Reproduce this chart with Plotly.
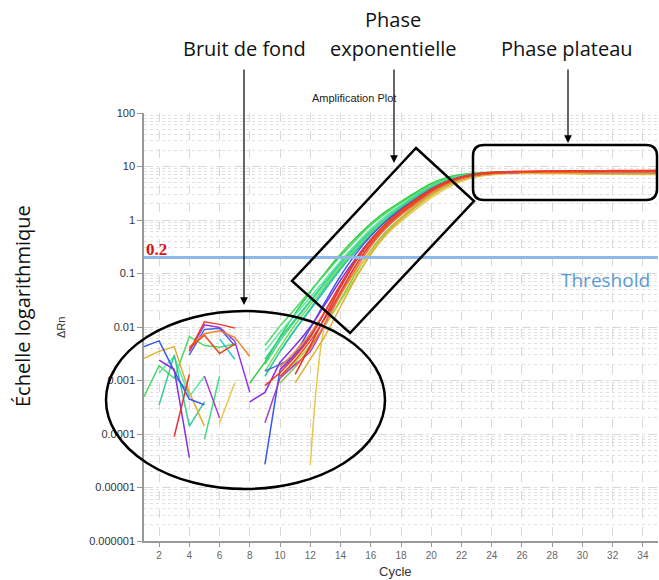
import plotly.graph_objects as go

N = None
cycles = list(range(1, 36))

# ΔRn per well, cycles 1..35 (None = negative / not shown on log scale)
w01 = [N, N, N, N, N, N, N, 0.0009,
       0.0022, 0.0065, 0.018, 0.045, 0.105, 0.23, 0.46, 0.86, 1.45, 2.2, 3.3, 4.8, 6.2, 7.1, 7.6, 7.8, 7.8, 7.9, 7.8, 7.8, 7.7, 7.7, 7.7, 7.6, 7.6, 7.6, 7.6]
w02 = [0.0005, 0.0019, 0.0011, 0.0066, 0.0045, 0.0042, 0.0048, N,
       0.0045, 0.0105, 0.022, 0.047, 0.1, 0.21, 0.42, 0.8, 1.35, 2.1, 3.1, 4.5, 5.9, 6.9, 7.5, 7.7, 7.8, 7.8, 7.8, 7.7, 7.7, 7.6, 7.6, 7.6, 7.5, 7.5, 7.5]
w03 = [N, 0.0014, 0.0028, 0.0005, 0.0012, N, N, N,
       0.0035, 0.008, 0.017, 0.036, 0.078, 0.17, 0.35, 0.68, 1.2, 1.9, 2.9, 4.2, 5.6, 6.7, 7.3, 7.6, 7.7, 7.7, 7.7, 7.7, 7.6, 7.6, 7.6, 7.5, 7.5, 7.5, 7.5]
w04 = [N, 0.00035, 0.003, 0.00014, 0.0004, N, N, N,
       0.0025, 0.0062, 0.014, 0.031, 0.07, 0.155, 0.32, 0.62, 1.1, 1.8, 2.8, 4.1, 5.5, 6.6, 7.3, 7.6, 7.7, 7.8, 7.8, 7.7, 7.7, 7.7, 7.6, 7.6, 7.6, 7.6, 7.6]
w05 = [N, N, 0.0012, 0.0006, N, 0.006, 0.0025, N,
       N, 0.0035, 0.009, 0.022, 0.055, 0.13, 0.28, 0.55, 1.0, 1.65, 2.6, 3.9, 5.3, 6.5, 7.2, 7.6, 7.7, 7.8, 7.8, 7.8, 7.7, 7.7, 7.7, 7.7, 7.6, 7.6, 7.6]
w06 = [0.0043, 0.0055, 0.0015, 0.00045, 0.00035, N, N, N,
       0.000027, 0.0016, 0.0032, 0.0095, 0.03, 0.09, 0.23, 0.5, 0.95, 1.6, 2.5, 3.8, 5.2, 6.4, 7.2, 7.6, 7.8, 7.9, 7.9, 7.9, 7.9, 7.9, 7.9, 7.9, 7.9, 7.9, 7.9]
w07 = [N, N, N, 0.003, 0.009, 0.0095, 0.0045, N,
       0.0015, 0.002, 0.003, 0.0065, 0.02, 0.062, 0.17, 0.4, 0.8, 1.4, 2.25, 3.5, 4.9, 6.1, 7.0, 7.5, 7.7, 7.8, 7.8, 7.8, 7.8, 7.8, 7.7, 7.7, 7.7, 7.7, 7.7]
w08 = [N, N, N, 0.0035, 0.011, 0.0098, 0.0055, 0.0006,
       N, 0.0016, 0.003, 0.007, 0.02, 0.06, 0.17, 0.4, 0.8, 1.4, 2.25, 3.5, 4.9, 6.2, 7.1, 7.6, 7.8, 7.9, 7.9, 7.9, 7.9, 7.9, 7.9, 7.9, 7.9, 7.9, 7.9]
w09 = [N, 0.0024, 0.0016, 0.000036, N, N, N, 0.0004,
       0.0006, 0.0022, 0.0045, 0.01, 0.027, 0.075, 0.19, 0.43, 0.85, 1.45, 2.3, 3.6, 5.0, 6.2, 7.0, 7.5, 7.7, 7.8, 7.8, 7.8, 7.8, 7.8, 7.8, 7.8, 7.8, 7.8, 7.8]
w10 = [N, N, N, N, 0.0012, 0.0002, N, N,
       0.00016, 0.0011, 0.002, 0.0035, 0.012, 0.045, 0.14, 0.35, 0.72, 1.3, 2.1, 3.3, 4.7, 6.0, 6.9, 7.4, 7.7, 7.8, 7.8, 7.8, 7.8, 7.8, 7.8, 7.8, 7.8, 7.8, 7.8]
w11 = [N, N, 0.00009, 0.0013, N, N, N, N,
       N, N, 0.0013, 0.0045, 0.016, 0.055, 0.17, 0.42, 0.85, 1.5, 2.4, 3.7, 5.1, 6.3, 7.2, 7.7, 8.0, 8.1, 8.2, 8.2, 8.3, 8.3, 8.3, 8.4, 8.4, 8.4, 8.5]
w12 = [N, N, N, 0.0036, 0.0125, 0.0112, 0.0096, N,
       0.0008, 0.0014, 0.0028, 0.0065, 0.02, 0.062, 0.18, 0.43, 0.87, 1.5, 2.45, 3.75, 5.2, 6.4, 7.3, 7.8, 8.0, 8.1, 8.1, 8.2, 8.2, 8.2, 8.3, 8.3, 8.3, 8.3, 8.3]
w13 = [N, N, N, 0.004, 0.007, 0.0032, 0.0048, N,
       N, 0.0012, 0.0024, 0.0055, 0.015, 0.045, 0.14, 0.36, 0.76, 1.35, 2.2, 3.45, 4.9, 6.2, 7.1, 7.6, 7.9, 8.0, 8.0, 8.1, 8.1, 8.1, 8.1, 8.2, 8.2, 8.2, 8.2]
w14 = [N, N, N, 0.0042, 0.0075, 0.0085, 0.0064, 0.0028,
       N, 0.0018, 0.0035, 0.0075, 0.02, 0.058, 0.17, 0.4, 0.82, 1.45, 2.35, 3.6, 5.0, 6.2, 7.0, 7.5, 7.7, 7.8, 7.9, 7.9, 7.9, 7.9, 7.9, 7.9, 7.9, 7.9, 7.9]
w15 = [N, N, N, N, N, N, N, N,
       N, N, 0.0018, 0.004, 0.012, 0.04, 0.12, 0.32, 0.7, 1.25, 2.05, 3.25, 4.7, 6.0, 7.0, 7.5, 7.8, 7.9, 8.0, 8.0, 8.1, 8.1, 8.1, 8.1, 8.2, 8.2, 8.2]
w16 = [0.0026, 0.0035, 0.0043, 0.0006, 0.00014, N, N, N,
       N, N, 0.0009, 0.0025, 0.007, 0.024, 0.08, 0.23, 0.55, 1.05, 1.8, 2.9, 4.3, 5.6, 6.6, 7.2, 7.5, 7.6, 7.6, 7.5, 7.5, 7.4, 7.4, 7.3, 7.3, 7.3, 7.3]
w17 = [N, N, N, N, N, 0.00016, 0.0009, N,
       N, N, N, 0.000026, 0.012, 0.04, 0.11, 0.25, 0.52, 0.95, 1.6, 2.6, 3.9, 5.3, 6.4, 7.0, 7.3, 7.4, 7.4, 7.3, 7.3, 7.2, 7.2, 7.2, 7.1, 7.1, 7.1]
w18 = [N, N, N, N, N, N, N, N,
       N, 0.0012, 0.0022, 0.0045, 0.011, 0.03, 0.085, 0.23, 0.52, 1.0, 1.75, 2.85, 4.2, 5.6, 6.6, 7.2, 7.5, 7.6, 7.6, 7.6, 7.6, 7.5, 7.5, 7.5, 7.4, 7.4, 7.4]
w19 = [N, N, N, N, N, N, N, N,
       0.0015, 0.0042, 0.011, 0.026, 0.06, 0.135, 0.28, 0.55, 1.0, 1.65, 2.6, 3.9, 5.3, 6.4, 7.1, 7.5, 7.6, 7.7, 7.7, 7.7, 7.7, 7.6, 7.6, 7.6, 7.6, 7.6, 7.6]
w20 = [N, N, N, N, 0.00008, 0.0012, N, N,
       0.002, 0.0055, 0.013, 0.03, 0.067, 0.15, 0.31, 0.6, 1.08, 1.75, 2.7, 4.0, 5.4, 6.5, 7.2, 7.6, 7.7, 7.8, 7.8, 7.7, 7.7, 7.7, 7.7, 7.6, 7.6, 7.6, 7.6]
w21 = [N, N, N, N, N, N, N, N,
       N, 0.0009, 0.0018, 0.0042, 0.011, 0.032, 0.1, 0.27, 0.6, 1.1, 1.9, 3.0, 4.4, 5.8, 6.8, 7.3, 7.5, 7.6, 7.6, 7.6, 7.5, 7.4, 7.4, 7.3, 7.3, 7.2, 7.2]
w22 = [N, N, N, N, N, N, N, N,
       0.0012, 0.0035, 0.009, 0.021, 0.05, 0.12, 0.26, 0.52, 0.97, 1.6, 2.55, 3.85, 5.25, 6.4, 7.1, 7.5, 7.6, 7.7, 7.7, 7.7, 7.6, 7.6, 7.6, 7.6, 7.6, 7.5, 7.5]

wells = [w01, w02, w03, w04, w05, w06, w07, w08, w09, w10, w11,
         w12, w13, w14, w15, w16, w17, w18, w19, w20, w21, w22]
well_colors = ["#2ECC40", "#4CD964", "#5EE6A8", "#33CC99", "#2EC4D6", "#3A56F0",
               "#4169E1", "#9B30F0", "#8A2BE2", "#A040D0", "#E8302A", "#F03C28",
               "#E64A19", "#F5832A", "#FF6F3C", "#E0B030", "#E8C84A", "#A8D838",
               "#7ED957", "#3DDC84", "#8BC34A", "#26C6A0"]

threshold = 0.2
x_ticks = list(range(2, 36, 2))
y_ticks = [1e-6, 1e-5, 1e-4, 1e-3, 1e-2, 1e-1, 1, 10, 100]
y_tick_text = ["0.000001", "0.00001", "0.0001", "0.001", "0.01", "0.1", "1", "10", "100"]

W, H = 659, 580
L, R, T, B = 144, 658, 113, 541


def px(X):
    return (X - L) / (R - L)


def py(Y):
    return (B - Y) / (B - T)


fig = go.Figure()
order = [0, 1, 2, 3, 4, 18, 19, 21, 20, 17, 16, 15, 5, 6, 7, 8, 9, 13, 14, 12, 10, 11]
SPLIT = 10  # noisy early cycles drawn straight, amplification drawn smooth
for i in order:
    vals = wells[i]
    fig.add_trace(go.Scatter(x=cycles[:SPLIT], y=vals[:SPLIT], mode="lines",
                             line=dict(color=well_colors[i], width=1.5),
                             connectgaps=False, showlegend=False, hoverinfo="skip"))
    fig.add_trace(go.Scatter(x=cycles[SPLIT - 1:], y=vals[SPLIT - 1:], mode="lines",
                             line=dict(color=well_colors[i], width=1.5, shape="spline",
                                       smoothing=0.8),
                             connectgaps=False, showlegend=False, hoverinfo="skip"))

fig.update_layout(
    width=W, height=H,
    margin=dict(l=L, r=W - R, t=T, b=H - B, autoexpand=False),
    paper_bgcolor="white", plot_bgcolor="white",
    font=dict(family="Liberation Sans, Arial, sans-serif", color="#333"),
)
fig.update_xaxes(range=[1, 35], tickvals=x_ticks, ticks="outside", ticklen=4,
                 tickcolor="#999", tickfont=dict(size=10, color="#666"),
                 showline=True, linecolor="#999", linewidth=1.5,
                 showgrid=True, gridcolor="#D8D8D8", griddash="dash", gridwidth=1,
                 zeroline=False, automargin=False)
fig.update_yaxes(type="log", range=[-6, 2], tickvals=y_ticks, ticktext=y_tick_text,
                 ticks="outside", ticklen=5, tickcolor="#999",
                 tickfont=dict(size=11, color="#333"),
                 showline=True, linecolor="#999", linewidth=1.5,
                 showgrid=True, gridcolor="#D8D8D8", griddash="dash", gridwidth=1,
                 minor=dict(dtick="D1", showgrid=True, gridcolor="#E0E0E0",
                            griddash="dot", gridwidth=1, ticks=""),
                 zeroline=False, automargin=False)

shapes = []
# threshold line
shapes.append(dict(type="line", xref="paper", x0=0, x1=1, yref="y",
                   y0=threshold, y1=threshold,
                   line=dict(color="#8DB8EA", width=3), layer="above"))
# ellipse (background noise)
shapes.append(dict(type="circle", xref="paper", yref="paper",
                   x0=px(106), x1=px(385), y0=py(489), y1=py(311),
                   line=dict(color="black", width=2.5)))
# rotated rectangle (exponential phase)
pts = [(416, 148), (474, 201), (350, 333), (292, 281)]
path = "M " + " L ".join(f"{px(a):.4f},{py(b):.4f}" for a, b in pts) + " Z"
shapes.append(dict(type="path", xref="paper", yref="paper", path=path,
                   line=dict(color="black", width=2.5)))
# rounded rectangle (plateau)
x0, x1, yt, yb = px(473), px(657), py(145), py(200)
rx, ry = 11 / (R - L), 11 / (B - T)
rp = (f"M {x0 + rx},{yt} L {x1 - rx},{yt} Q {x1},{yt} {x1},{yt - ry} "
      f"L {x1},{yb + ry} Q {x1},{yb} {x1 - rx},{yb} L {x0 + rx},{yb} "
      f"Q {x0},{yb} {x0},{yb + ry} L {x0},{yt - ry} Q {x0},{yt} {x0 + rx},{yt} Z")
shapes.append(dict(type="path", xref="paper", yref="paper", path=rp,
                   line=dict(color="black", width=2.5)))
fig.update_layout(shapes=shapes)

ann = []
head_font = dict(family="Open Sans, Noto Sans, sans-serif", size=20, color="#111")


def text(X, Y, s, font, **kw):
    ann.append(dict(x=px(X), y=py(Y), xref="paper", yref="paper", text=s,
                    showarrow=False, font=font, xanchor="center", yanchor="middle", **kw))


def arrow(X, Y0, Y1):
    ann.append(dict(x=px(X), y=py(Y1), xref="paper", yref="paper", text="",
                    showarrow=True, arrowhead=2, arrowsize=1.3, arrowwidth=1.2,
                    arrowcolor="black", ax=0, ay=-(Y1 - Y0)))


text(244, 48, "Bruit de fond", head_font)
text(393, 20, "Phase", head_font)
text(393, 48, "exponentielle", head_font)
text(567, 48, "Phase plateau", head_font)
arrow(244, 68, 305)
arrow(394, 68, 163)
arrow(568, 68, 143)
text(354, 98, "Amplification Plot", dict(family="Liberation Sans, Arial", size=11, color="#222"))
text(395, 571, "Cycle", dict(family="Liberation Sans, Arial", size=13, color="#333"))
text(605, 280, "Threshold", dict(family="Open Sans, Noto Sans, sans-serif", size=19, color="#5B9BD5"))
text(156, 249, "<b>0.2</b>", dict(family="Liberation Serif, serif", size=17, color="#E01010"))
text(22, 306, "Échelle logarithmique", head_font, textangle=-90)
text(61, 328, "ΔRn", dict(family="Liberation Sans, Arial", size=11, color="#333"), textangle=-90)
fig.update_layout(annotations=ann)

fig.write_html("out.html", config={"displayModeBar": False},
               post_script="document.body.style.margin='0px';document.body.style.overflow='hidden';")
